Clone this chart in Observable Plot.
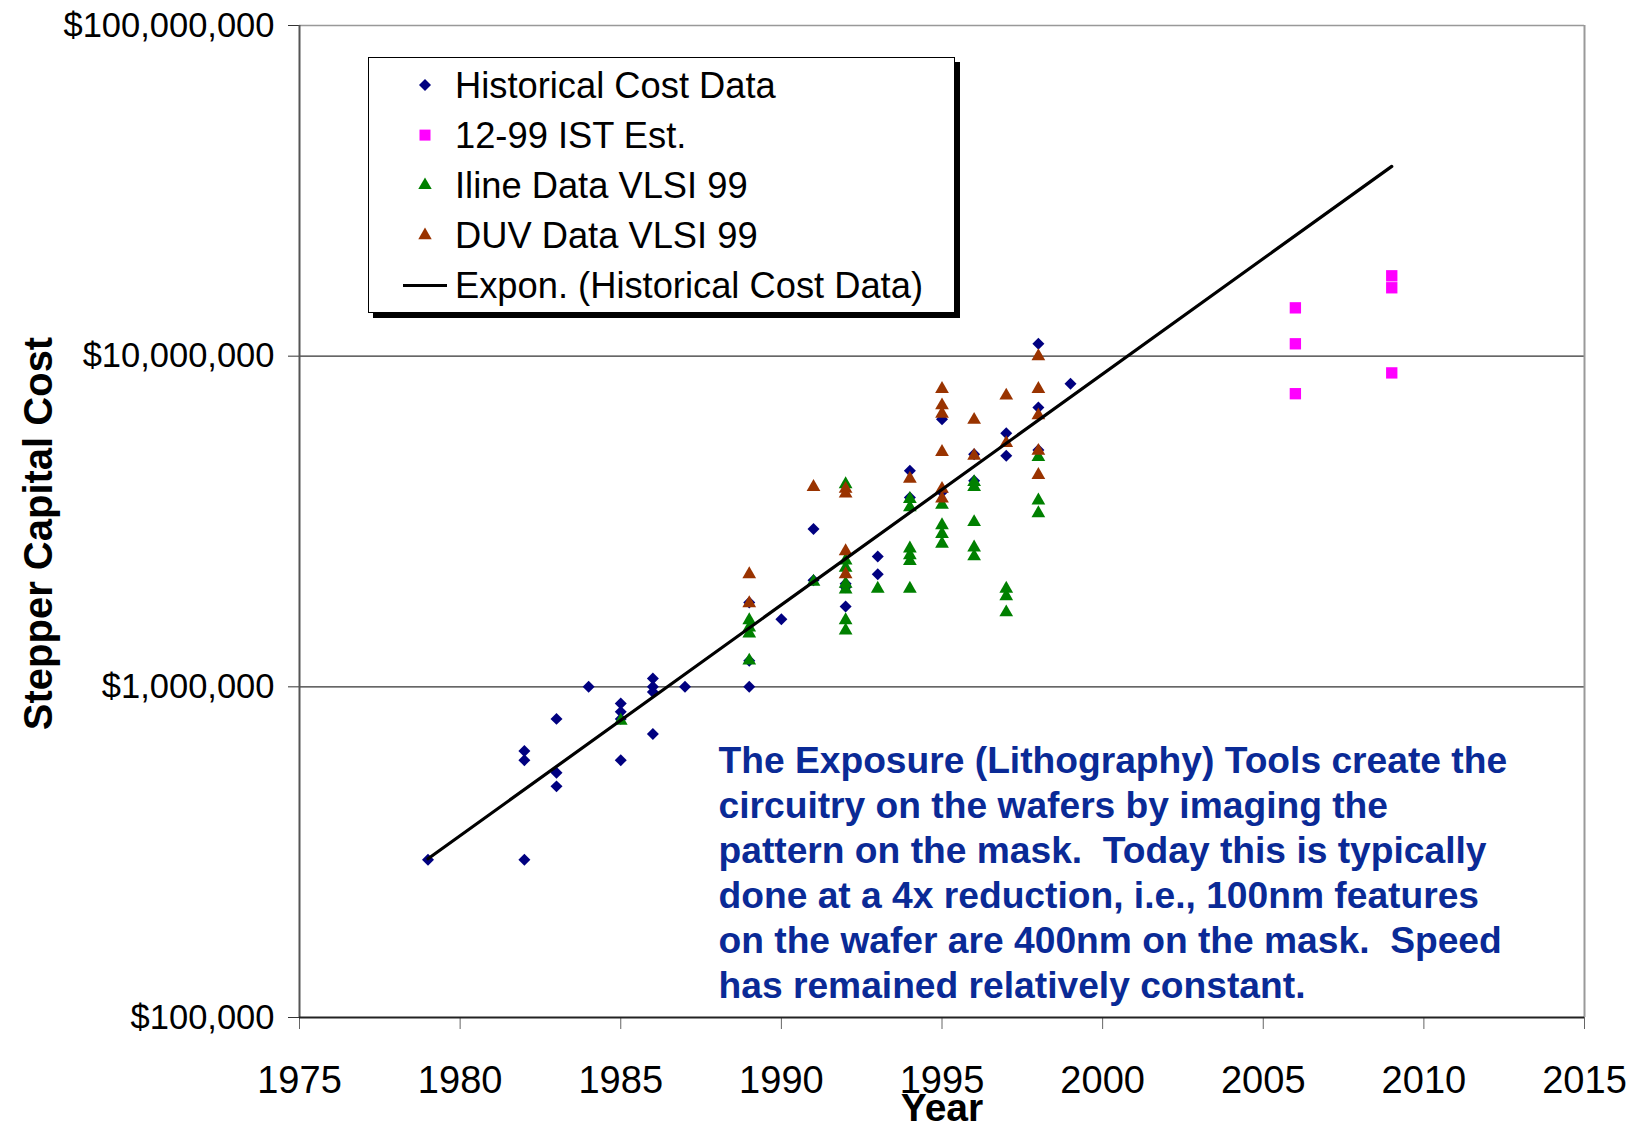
<!DOCTYPE html>
<html>
<head>
<meta charset="utf-8">
<script src="https://cdn.jsdelivr.net/npm/d3@7"></script>
<script src="https://cdn.jsdelivr.net/npm/@observablehq/plot@0.6"></script>
<style>
  body { margin: 0; background: #fff; }
  #wrap { position: relative; width: 1637px; height: 1123px; overflow: hidden; font-family: "Liberation Sans", Arial, sans-serif; }
  #chart svg text { white-space: pre; }
  #legend { position: absolute; left: 368px; top: 57px; width: 587px; height: 256px; box-sizing: border-box;
            border: 1.5px solid #000; background: #fff; box-shadow: 5px 5px 0 #000; }
  #legend svg { position: absolute; left: -1.5px; top: -1.5px; overflow: visible; }
</style>
</head>
<body>
<div id="wrap">
  <div id="chart"></div>
  <div id="legend"></div>
</div>
<script>
// ---------------- data ----------------
const histYear = [1979,
  1982, 1982, 1982,
  1983, 1983, 1983,
  1984,
  1985, 1985, 1985, 1985,
  1986, 1986, 1986, 1986,
  1987,
  1989, 1989, 1989,
  1990,
  1991, 1991,
  1992, 1992, 1992,
  1993, 1993,
  1994, 1994,
  1995, 1995,
  1996, 1996,
  1997, 1997,
  1998, 1998, 1998,
  1999];
const histCost = [3.0e5,
  6.4e5, 6.0e5, 3.0e5,
  8.0e5, 5.5e5, 5.0e5,
  1.0e6,
  8.9e5, 8.4e5, 8.0e5, 6.0e5,
  1.06e6, 1.0e6, 9.65e5, 7.2e5,
  1.0e6,
  1.8e6, 1.2e6, 1.0e6,
  1.6e6,
  3.0e6, 2.1e6,
  2.05e6, 2.0e6, 1.75e6,
  2.48e6, 2.19e6,
  4.5e6, 3.74e6,
  6.45e6, 3.88e6,
  5.05e6, 4.2e6,
  5.85e6, 5.0e6,
  1.09e7, 7.0e6, 5.2e6,
  8.25e6];

const istYear = [2006, 2006, 2006, 2009, 2009, 2009];
const istCost = [1.40e7, 1.09e7, 7.7e6, 1.75e7, 1.61e7, 8.9e6];

const ilineYear = [1985,
  1989, 1989, 1989, 1989,
  1991,
  1992, 1992, 1992, 1992, 1992, 1992, 1992,
  1993,
  1994, 1994, 1994, 1994, 1994, 1994,
  1995, 1995, 1995, 1995,
  1996, 1996, 1996, 1996, 1996,
  1997, 1997, 1997,
  1998, 1998, 1998];
const ilineCost = [7.9e5,
  1.59e6, 1.51e6, 1.45e6, 1.2e6,
  2.08e6,
  4.1e6, 2.41e6, 2.29e6, 2.05e6, 1.97e6, 1.59e6, 1.48e6,
  1.98e6,
  3.7e6, 3.49e6, 2.62e6, 2.5e6, 2.4e6, 1.98e6,
  3.55e6, 3.08e6, 2.9e6, 2.71e6,
  4.16e6, 4.02e6, 3.15e6, 2.64e6, 2.48e6,
  1.98e6, 1.88e6, 1.68e6,
  4.95e6, 3.66e6, 3.35e6];

const duvYear = [1989, 1989,
  1991,
  1992, 1992, 1992, 1992,
  1994,
  1995, 1995, 1995, 1995, 1995, 1995,
  1996, 1996,
  1997, 1997,
  1998, 1998, 1998, 1998, 1998];
const duvCost = [2.19e6, 1.79e6,
  4.02e6,
  3.97e6, 3.84e6, 2.57e6, 2.19e6,
  4.26e6,
  7.96e6, 7.1e6, 6.7e6, 5.13e6, 3.97e6, 3.71e6,
  6.42e6, 5.0e6,
  7.6e6, 5.46e6,
  1.0e7, 7.96e6, 6.62e6, 5.17e6, 4.37e6];

// Exponential trend line (straight on the log axis): its two ends
const trendYear = [1979, 2009];
const trendCost = [3.02e5, 3.75e7];

const xTicks = [1975, 1980, 1985, 1990, 1995, 2000, 2005, 2010, 2015];
const yTicks = [1e5, 1e6, 1e7, 1e8];

const legendLabels = ["Historical Cost Data", "12-99 IST Est.", "Iline Data VLSI 99", "DUV Data VLSI 99", "Expon. (Historical Cost Data)"];
const xLabel = "Year";
const yLabel = "Stepper Capital Cost";
const annotationLines = [
  "The Exposure (Lithography) Tools create the",
  "circuitry on the wafers by imaging the",
  "pattern on the mask.  Today this is typically",
  "done at a 4x reduction, i.e., 100nm features",
  "on the wafer are 400nm on the mask.  Speed",
  "has remained relatively constant."
];

// ---------------- build tables ----------------
const rows = (xs, ys) => xs.map((x, i) => ({year: x, cost: ys[i]}));
const hist = rows(histYear, histCost);
const ist = rows(istYear, istCost);
const iline = rows(ilineYear, ilineCost);
const duv = rows(duvYear, duvCost);
const trend = rows(trendYear, trendCost);

const NAVY = "#000080", MAGENTA = "#ff00ff", GREEN = "#008000", BROWN = "#993300";
const FONT = '"Liberation Sans", Arial, sans-serif';

const chart = Plot.plot({
  width: 1637,
  height: 1123,
  marginLeft: 299,
  marginRight: 53,
  marginTop: 25,
  marginBottom: 106,
  style: {fontFamily: FONT, background: "white", overflow: "visible", color: "#000"},
  x: {domain: [1975, 2015]},
  y: {type: "log", domain: [1e5, 1e8]},
  marks: [
    Plot.ruleY([1e6, 1e7], {stroke: "#333", strokeWidth: 1.2}),
    Plot.ruleY([1e8], {stroke: "#999", strokeWidth: 1.5}),
    Plot.ruleX([2015], {stroke: "#999", strokeWidth: 2}),
    Plot.axisY({ticks: yTicks, tickFormat: d => "$" + d3.format(",")(d), tickSize: 11, tickPadding: 14,
                fontSize: 34.5, stroke: "#333", fill: "#000", label: null}),
    Plot.axisX({ticks: xTicks, tickFormat: d => String(d), tickSize: 12, tickPadding: 37,
                fontSize: 38, stroke: "#666", fill: "#000", label: null}),
    Plot.ruleX([1975], {stroke: "#555", strokeWidth: 2}),
    Plot.ruleY([1e5], {stroke: "#222", strokeWidth: 2}),
    Plot.dot(hist, {x: "year", y: "cost", symbol: "diamond2", r: 5.4, fill: NAVY}),
    Plot.dot(ist, {x: "year", y: "cost", symbol: "square", r: 6.4, fill: MAGENTA}),
    Plot.dot(iline, {x: "year", y: "cost", symbol: "triangle", r: 5.1, fill: GREEN}),
    Plot.dot(duv, {x: "year", y: "cost", symbol: "triangle", r: 5.1, fill: BROWN}),
    Plot.line(trend, {x: "year", y: "cost", stroke: "#000", strokeWidth: 3.2}),
    Plot.text([annotationLines.join("\n")], {text: d => d, frameAnchor: "top-left", dx: 419, dy: 715,
                lineAnchor: "top", textAnchor: "start", lineHeight: 1.214, fontSize: 37.2,
                fontWeight: "bold", fill: "#0a2a96"}),
    Plot.text([xLabel], {text: d => d, frameAnchor: "bottom", dy: 103, lineAnchor: "bottom",
                fontSize: 39, fontWeight: "bold", fill: "#000"}),
    Plot.text([yLabel], {text: d => d, frameAnchor: "left", dx: -248, dy: 12, rotate: -90,
                textAnchor: "middle", lineAnchor: "bottom", fontSize: 40, fontWeight: "bold", fill: "#000"})
  ]
});
document.getElementById("chart").appendChild(chart);

// ---------------- legend ----------------
const legendKinds = [
  {sym: d3.symbolDiamond2, size: Math.PI * 5.4 * 5.4, fill: NAVY},
  {sym: d3.symbolSquare, size: Math.PI * 6.2 * 6.2, fill: MAGENTA},
  {sym: d3.symbolTriangle, size: Math.PI * 5 * 5, fill: GREEN},
  {sym: d3.symbolTriangle, size: Math.PI * 5 * 5, fill: BROWN},
  {line: true}
];
const lsvg = d3.select("#legend").append("svg").attr("width", 590).attr("height", 260)
  .style("font-family", FONT);
legendLabels.forEach((label, i) => {
  const cy = 28 + i * 50.1;
  const k = legendKinds[i];
  if (k.line) {
    lsvg.append("line").attr("x1", 35).attr("x2", 79).attr("y1", cy).attr("y2", cy)
      .attr("stroke", "#000").attr("stroke-width", 3);
  } else {
    lsvg.append("path").attr("d", d3.symbol(k.sym, k.size)())
      .attr("transform", `translate(57,${cy})`).attr("fill", k.fill);
  }
  lsvg.append("text").attr("x", 87).attr("y", cy + 12.9).attr("font-size", 36.3).attr("fill", "#000").text(label);
});
</script>
</body>
</html>
